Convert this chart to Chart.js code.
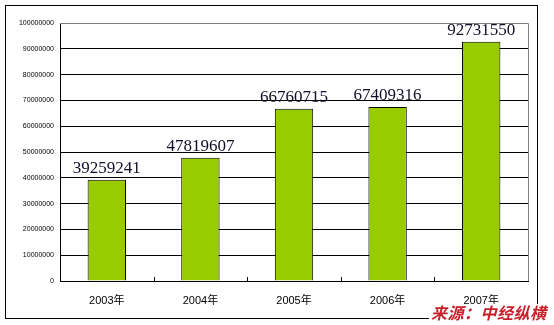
<!DOCTYPE html>
<html>
<head>
<meta charset="utf-8">
<script src="https://cdn.jsdelivr.net/npm/chart.js@4.4.0/dist/chart.umd.min.js"></script>
<style>
  html, body { margin: 0; padding: 0; background: #fff; }
  #wrap { position: relative; width: 554px; height: 325px; }
  #source {
    position: absolute; left: 429px; top: 304px;
    background: #fff; color: #c8202a;
    font: italic bold 16px "Noto Sans CJK SC", sans-serif;
    line-height: 16px; padding: 0 2px; letter-spacing: 0.5px;
  }
</style>
</head>
<body>
<div id="wrap">
  <canvas id="myChart" width="554" height="325"></canvas>
  <div id="source">来源：中经纵横</div>
</div>
<script>
const years = ["2003年", "2004年", "2005年", "2006年", "2007年"];
const values = [39259241, 47819607, 66760715, 67409316, 92731550];
const yMax = 100000000;
const yStep = 10000000;

const ctx = document.getElementById('myChart').getContext('2d');

// frame, plot border, inward tick marks and value labels
const extras = {
  id: 'extras',
  beforeDraw(chart) {
    const c = chart.ctx;
    c.save();
    c.fillStyle = '#fff';
    c.fillRect(0, 0, chart.width, chart.height);
    c.strokeStyle = '#000';
    c.lineWidth = 1;
    c.strokeRect(5.5, 5.5, 532, 313);
    c.restore();
  },
  afterDatasetsDraw(chart) {
    const c = chart.ctx;
    const a = chart.chartArea;
    const x = chart.scales.x;
    c.save();
    // gray top and right border
    c.strokeStyle = '#808080';
    c.lineWidth = 1;
    c.beginPath();
    c.moveTo(a.left, Math.round(a.top) + 0.5);
    c.lineTo(Math.round(a.right) + 0.5, Math.round(a.top) + 0.5);
    c.lineTo(Math.round(a.right) + 0.5, a.bottom);
    c.stroke();
    // tick marks between categories, pointing up
    c.strokeStyle = '#000';
    for (let i = 1; i < years.length; i++) {
      const px = Math.round((x.getPixelForValue(i - 1) + x.getPixelForValue(i)) / 2) + 0.5;
      c.beginPath();
      c.moveTo(px, a.bottom);
      c.lineTo(px, a.bottom - 4);
      c.stroke();
    }
    // value labels
    const meta = chart.getDatasetMeta(0);
    c.fillStyle = '#10102a';
    c.font = '17px "Liberation Serif", "Times New Roman", serif';
    c.textAlign = 'center';
    c.textBaseline = 'alphabetic';
    meta.data.forEach((bar, i) => {
      c.fillText(String(values[i]), bar.x, bar.y - 7);
    });
    c.restore();
  }
};

new Chart(ctx, {
  type: 'bar',
  data: {
    labels: years,
    datasets: [{
      data: values,
      backgroundColor: '#99cc00',
      borderColor: '#000',
      borderWidth: 1,
      barPercentage: 0.41,
      categoryPercentage: 1
    }]
  },
  options: {
    responsive: false,
    animation: false,
    devicePixelRatio: 1,
    layout: { padding: { left: 0, right: 26, top: 23, bottom: 0 } },
    plugins: {
      legend: { display: false },
      tooltip: { enabled: false }
    },
    scales: {
      y: {
        min: 0,
        max: yMax,
        ticks: {
          stepSize: yStep,
          color: '#000',
          padding: 6,
          font: { family: 'Arial, "Liberation Sans", sans-serif', size: 7 },
          callback: (v) => String(v)
        },
        grid: {
          color: (c) => c.tick && c.tick.value === yMax ? '#808080' : '#000',
          lineWidth: 1,
          drawTicks: false
        },
        border: { color: '#000' },
        afterFit(scale) { scale.width = 60; }
      },
      x: {
        ticks: {
          color: '#000',
          padding: 5,
          font: { family: '"Liberation Sans", "Noto Sans CJK SC", sans-serif', size: 11 }
        },
        grid: { display: false },
        border: { color: '#000' },
        afterFit(scale) { scale.height = 44; }
      }
    }
  },
  plugins: [extras]
});
</script>
</body>
</html>
